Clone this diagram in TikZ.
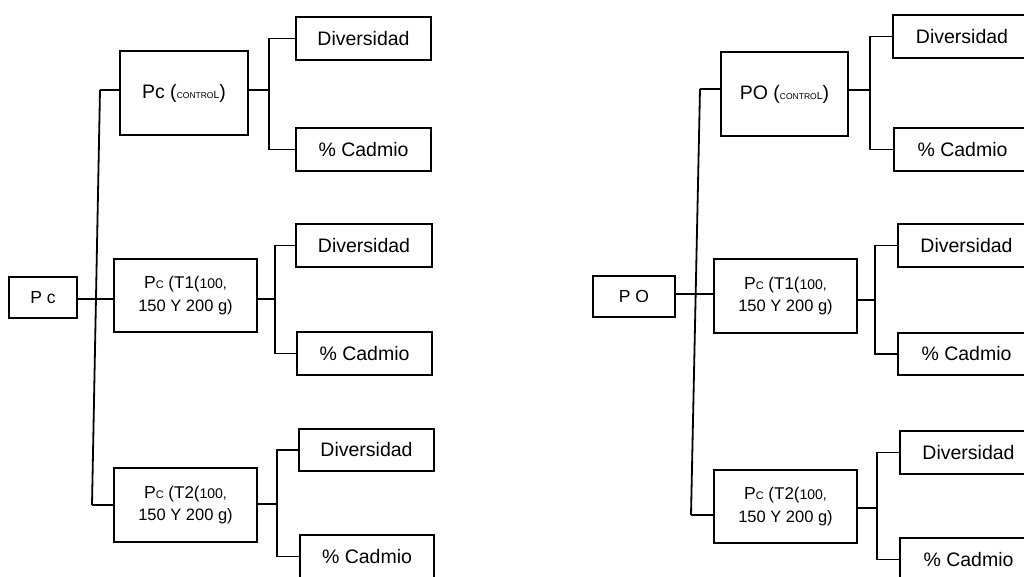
\documentclass[tikz,border=0pt]{standalone}
\usepackage{fontspec}
\setmainfont{Liberation Sans}
\newcommand{\fs}[1]{\fontsize{#1}{#1}\selectfont}
\newcommand{\ctrl}{{\fs{8.5}CONTRO\fs{10.5}L}}
\newcommand{\tlab}[1]{{\fs{17.5}P\fs{11}C\fs{17} (T#1(\fs{14}100,}\\[6pt]{\fs{16.5}150 Y 200 g)}}
\begin{document}
\begin{tikzpicture}[x=1pt,y=-1pt,
  box/.style={draw,line width=1.8pt,anchor=north west,inner sep=0pt,outer sep=0pt,align=center},
  leaf/.style={box,font=\fs{19.5}},
  con/.style={line width=1.8pt}]
\useasboundingbox (0,0) rectangle (1024,576);
\clip (0,0) rectangle (1024,576);
% ---------- left tree ----------
\node[box,minimum width=68pt,minimum height=41pt,font=\fs{17.5}] (pc) at (9,277) {P c};
\node[box,minimum width=128pt,minimum height=84pt,font=\fs{19.5}] (pcc) at (120,51) {Pc (\ctrl)};
\node[box,minimum width=143pt,minimum height=73pt] (t1) at (114,259) {\tlab{1}};
\node[box,minimum width=143pt,minimum height=74pt] (t2) at (114,468) {\tlab{2}};
\node[leaf,minimum width=135pt,minimum height=43pt] (ld1) at (296,17) {Diversidad};
\node[leaf,minimum width=135pt,minimum height=43pt] (lc1) at (296,128) {\% Cadmio};
\node[leaf,minimum width=136pt,minimum height=43pt] (ld2) at (296,224) {Diversidad};
\node[leaf,minimum width=135pt,minimum height=43pt] (lc2) at (297,332) {\% Cadmio};
\node[leaf,minimum width=135pt,minimum height=42pt] (ld3) at (299,429) {Diversidad};
\node[leaf,minimum width=134pt,minimum height=43pt] (lc3) at (300,535) {\% Cadmio};
\coordinate (ltop) at (100,90);
\coordinate (lbot) at (92,505);
\coordinate (lj1) at (269,90);
\coordinate (lj2) at (275,299);
\coordinate (lj3) at (277,504);
\draw[con] (ltop) -- (lbot);
\draw[con] (ltop) -- (pcc.west |- ltop);
\draw[con] (lbot) -- (t2.west |- lbot);
\draw[con] (pc.east |- lj2) -- (t1.west |- lj2);
\draw[con] (pcc.east |- lj1) -- (lj1);
\draw[con] (ld1.west) -| (lj1);
\draw[con] (lc1.west) -| (lj1);
\draw[con] (t1.east |- lj2) -- (lj2);
\draw[con] (ld2.west) -| (lj2);
\draw[con] (lc2.west) -| (lj2);
\draw[con] (t2.east |- lj3) -- (lj3);
\draw[con] (ld3.west) -| (lj3);
\draw[con] (lc3.west) -| (lj3);
% ---------- right tree ----------
\node[box,minimum width=82pt,minimum height=41pt,font=\fs{17.5}] (po) at (593,276) {P O};
\node[box,minimum width=127pt,minimum height=84pt,font=\fs{19.5}] (poc) at (721,52) {PO (\ctrl)};
\node[box,minimum width=143pt,minimum height=74pt] (rt1) at (714,259) {\tlab{1}};
\node[box,minimum width=143pt,minimum height=73pt] (rt2) at (714,470) {\tlab{2}};
\node[leaf,minimum width=138pt,minimum height=43pt] (rd1) at (893,15) {Diversidad};
\node[leaf,minimum width=137pt,minimum height=43pt] (rc1) at (894,128) {\% Cadmio};
\node[leaf,minimum width=137pt,minimum height=43pt] (rd2) at (898,224) {Diversidad};
\node[leaf,minimum width=137pt,minimum height=42pt] (rc2) at (898,333) {\% Cadmio};
\node[leaf,minimum width=137pt,minimum height=43pt] (rd3) at (900,431) {Diversidad};
\node[leaf,minimum width=137pt,minimum height=43pt] (rc3) at (900,538) {\% Cadmio};
\coordinate (rtop) at (700,89);
\coordinate (rbot) at (691,515);
\coordinate (rj1) at (870,90);
\coordinate (rj2) at (875,300);
\coordinate (rj3) at (877,508);
\draw[con] (rtop) -- (rbot);
\draw[con] (rtop) -- (poc.west |- rtop);
\draw[con] (rbot) -- (rt2.west |- rbot);
\draw[con] (po.east |- 0,294) -- (rt1.west |- 0,294);
\draw[con] (poc.east |- rj1) -- (rj1);
\draw[con] (rd1.west) -| (rj1);
\draw[con] (rc1.west) -| (rj1);
\draw[con] (rt1.east |- rj2) -- (rj2);
\draw[con] (rd2.west) -| (rj2);
\draw[con] (rc2.west) -| (rj2);
\draw[con] (rt2.east |- rj3) -- (rj3);
\draw[con] (rd3.west) -| (rj3);
\draw[con] (rc3.west) -| (rj3);
\end{tikzpicture}
\end{document}
